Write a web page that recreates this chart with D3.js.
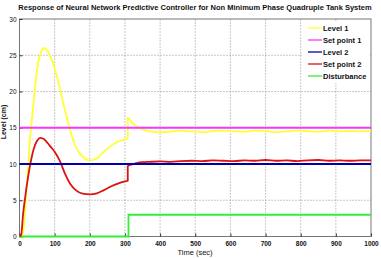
<!DOCTYPE html>
<html>
<head>
<meta charset="utf-8">
<script type="text/javascript" src="https://cdn.jsdelivr.net/npm/d3@7"></script>
<style>
	body { margin: 0; background: #fff; }
	text { font-family: "Liberation Sans", Arial, sans-serif; }
</style>
</head>
<body>
<script type="text/javascript">
	var w = 381;
	var h = 258;
	var padding = { top: 19, right: 10, bottom: 21.5, left: 19.5 };

	// time samples (sec); 308 appears twice for the step when the disturbance hits
	var time = [0, 5, 10, 15, 20, 25, 30, 35, 40, 50, 60, 70, 80, 90, 100, 115, 130, 145, 160, 180,
		200, 220, 240, 260, 280, 300, 308, 308, 320, 335, 350, 370, 400, 430, 460, 490, 520, 550,
		580, 610, 640, 670, 700, 730, 760, 790, 820, 850, 880, 910, 940, 970, 1000];
	var level1 = [0, 0, 0.5, 3, 6.5, 10, 13.5, 16, 18.5, 23, 25.3, 26, 25.6, 24.6, 23.2, 20.4, 17.3, 14.5, 12.4, 11,
		10.5, 10.8, 11.7, 12.5, 13.1, 13.4, 13.5, 16.4, 15.7, 15.1, 14.8, 14.5, 14.4, 14.45, 14.6, 14.5, 14.4, 14.55,
		14.6, 14.5, 14.45, 14.6, 14.55, 14.4, 14.5, 14.6, 14.55, 14.45, 14.6, 14.5, 14.55, 14.5, 14.55];
	var setPoint2 = [0, 0.3, 3, 5, 6.8, 8.4, 9.8, 11, 12, 13.2, 13.6, 13.4, 12.9, 12.3, 11.7, 10.4, 8.6, 7.2, 6.4, 5.9,
		5.8, 5.95, 6.4, 6.9, 7.3, 7.6, 7.7, 9.7, 9.95, 10.15, 10.25, 10.3, 10.35, 10.3, 10.4, 10.45, 10.4, 10.5,
		10.45, 10.4, 10.5, 10.45, 10.55, 10.45, 10.5, 10.4, 10.5, 10.55, 10.45, 10.5, 10.45, 10.5, 10.5];
	var setPoint1 = [[0, 15], [1000, 15]];
	var level2 = [[0, 10], [1000, 10]];
	var disturbance = [[0, 0], [310, 0], [310, 3], [1000, 3]];

	var xTicks = [0, 100, 200, 300, 400, 500, 600, 700, 800, 900, 1000];
	var yTicks = [0, 5, 10, 15, 20, 25, 30];
	var legendNames = ["Level 1", "Set point 1", "Level 2", "Set point 2", "Disturbance"];
	var colors = ["#ffff33", "#ff33ff", "#0000aa", "#dd1111", "#33ee33"];

	var svg = d3.select("body").append("svg")
		.attr("width", w)
		.attr("height", h);

	var xScale = d3.scaleLinear().domain([0, 1000]).range([padding.left, w - padding.right]);
	var yScale = d3.scaleLinear().domain([0, 30]).range([h - padding.bottom, padding.top]);

	// grid
	svg.append("g").selectAll("line.vx")
		.data(xTicks.slice(1, -1)).enter().append("line")
		.attr("x1", function (d) { return xScale(d); })
		.attr("x2", function (d) { return xScale(d); })
		.attr("y1", yScale(0)).attr("y2", yScale(30))
		.attr("stroke", "#777").attr("stroke-width", 0.8).attr("stroke-dasharray", "1,2");
	svg.append("g").selectAll("line.hy")
		.data(yTicks.slice(1, -1)).enter().append("line")
		.attr("x1", xScale(0)).attr("x2", xScale(1000))
		.attr("y1", function (d) { return yScale(d); })
		.attr("y2", function (d) { return yScale(d); })
		.attr("stroke", "#777").attr("stroke-width", 0.8).attr("stroke-dasharray", "1,2");

	// box
	svg.append("rect")
		.attr("x", xScale(0)).attr("y", yScale(30))
		.attr("width", xScale(1000) - xScale(0))
		.attr("height", yScale(0) - yScale(30))
		.attr("fill", "none").attr("stroke", "#555").attr("stroke-width", 0.8);

	var xAxis = d3.axisBottom(xScale).tickValues(xTicks).tickFormat(d3.format("d")).tickSize(3).tickPadding(2);
	svg.append("g")
		.attr("transform", "translate(0," + yScale(0) + ")")
		.call(xAxis)
		.call(function (g) {
			g.select(".domain").remove();
			g.selectAll(".tick line").attr("stroke", "#333").attr("transform", "translate(0,-3)");
			g.selectAll(".tick text").attr("font-size", "6.5px").attr("font-weight", "bold")
				.attr("font-family", "Liberation Sans, Arial, sans-serif").attr("fill", "#111");
		});

	var yAxis = d3.axisLeft(yScale).tickValues(yTicks).tickSize(3).tickPadding(2);
	svg.append("g")
		.attr("transform", "translate(" + xScale(0) + ",0)")
		.call(yAxis)
		.call(function (g) {
			g.select(".domain").remove();
			g.selectAll(".tick line").attr("stroke", "#333").attr("transform", "translate(3,0)");
			g.selectAll(".tick text").attr("font-size", "6.5px").attr("x", -3)
				.attr("font-family", "Liberation Sans, Arial, sans-serif").attr("fill", "#111");
		});

	// series
	var line = d3.line()
		.x(function (d) { return xScale(d[0]); })
		.y(function (d) { return yScale(d[1]); });
	var smooth = d3.line()
		.x(function (d) { return xScale(d[0]); })
		.y(function (d) { return yScale(d[1]); })
		.curve(d3.curveMonotoneX);

	var series = [
		{ data: time.map(function (t, i) { return [t, level1[i]]; }), color: colors[0], gen: smooth },
		{ data: setPoint1, color: colors[1], gen: line },
		{ data: disturbance, color: colors[4], gen: line },
		{ data: time.map(function (t, i) { return [t, setPoint2[i]]; }), color: colors[3], gen: smooth },
		{ data: level2, color: colors[2], gen: line }
	];
	svg.append("g").selectAll("path")
		.data(series).enter().append("path")
		.attr("d", function (d) { return d.gen(d.data); })
		.attr("fill", "none")
		.attr("stroke", function (d) { return d.color; })
		.attr("stroke-width", 1.8);

	// legend
	var legend = svg.append("g");
	legend.append("rect")
		.attr("x", 302).attr("y", 21).attr("width", 68).attr("height", 62)
		.attr("fill", "#fff");
	var items = legend.selectAll("g.item")
		.data(legendNames).enter().append("g")
		.attr("transform", function (d, i) { return "translate(308," + (28 + i * 12) + ")"; });
	items.append("line")
		.attr("x1", 0).attr("x2", 14).attr("y1", 0).attr("y2", 0)
		.attr("stroke", function (d, i) { return colors[i]; })
		.attr("stroke-width", 1.3);
	items.append("text")
		.attr("x", 15).attr("y", 2.5)
		.attr("font-size", "7.5px").attr("font-weight", "bold").attr("fill", "#111")
		.text(function (d) { return d; });

	// titles
	svg.append("text")
		.attr("x", 195).attr("y", 10)
		.attr("text-anchor", "middle")
		.attr("font-size", "7.5px").attr("font-weight", "bold").attr("fill", "#111")
		.text("Response of Neural Network Predictive Controller for Non Minimum Phase Quadruple Tank System");
	svg.append("text")
		.attr("x", 195).attr("y", 255)
		.attr("text-anchor", "middle")
		.attr("font-size", "7.5px").attr("fill", "#111")
		.text("Time (sec)");
	svg.append("text")
		.attr("transform", "translate(6," + 122 + ") rotate(-90)")
		.attr("text-anchor", "middle")
		.attr("font-size", "7px").attr("font-weight", "bold").attr("fill", "#111")
		.text("Level (cm)");
</script>
</body>
</html>
